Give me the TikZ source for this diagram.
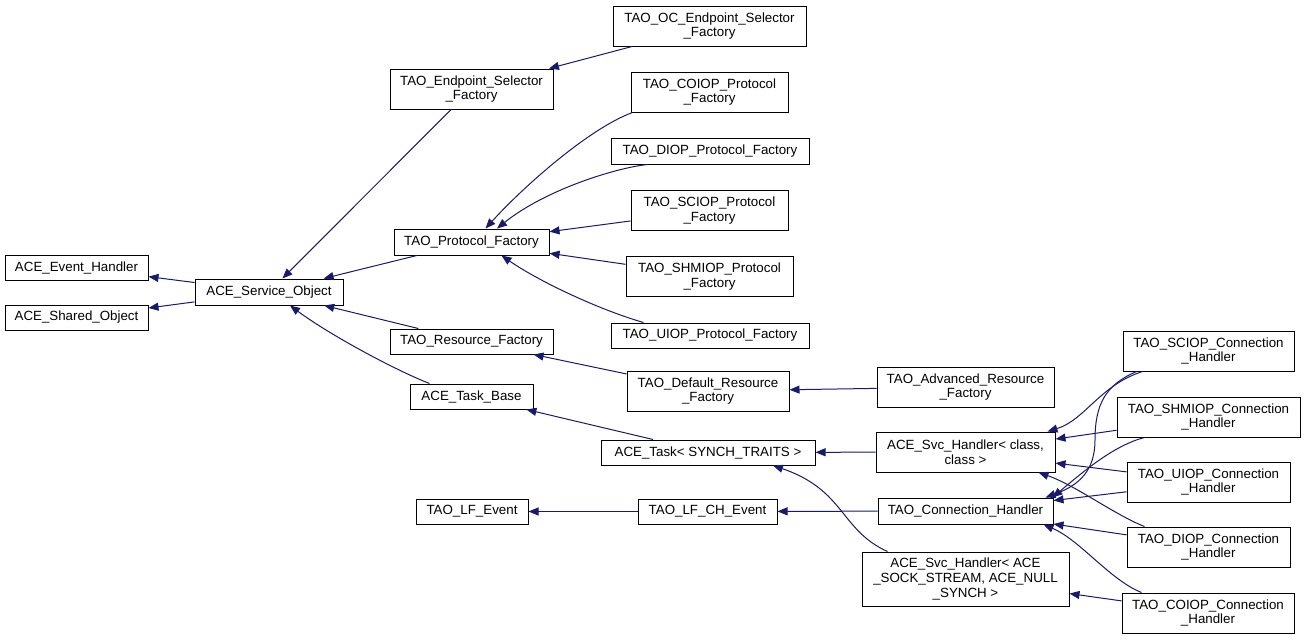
\documentclass[tikz,border=0pt]{standalone}
\usepackage{fontspec}
\setmainfont{Liberation Sans}
\usetikzlibrary{arrows.meta,calc}
\definecolor{edgeblue}{HTML}{191970}
\begin{document}
\begin{tikzpicture}[x=0.75pt,y=-0.75pt,
  box/.style={draw=black,fill=white,line width=0.75pt,inner sep=0pt,align=center,font=\fontsize{10}{11}\selectfont},
  sz/.style 2 args={minimum width=#1*0.75pt,minimum height=#2*0.75pt},
  edge/.style={draw=edgeblue,line width=0.75pt,-{Triangle[length=7.5pt,width=6pt]}}]
\useasboundingbox[fill=white] (0,0) rectangle (1305,639);
% nodes
\node[box,sz={193}{40}] (oc) at (709.5,26) {TAO\_OC\_Endpoint\_Selector\\\_Factory};
\node[box,sz={157}{40}] (coiopP) at (709.5,92) {TAO\_COIOP\_Protocol\\\_Factory};
\node[box,sz={198}{26}] (diopP) at (710,151) {TAO\_DIOP\_Protocol\_Factory};
\node[box,sz={157}{40}] (sciopP) at (709.5,210.5) {TAO\_SCIOP\_Protocol\\\_Factory};
\node[box,sz={167}{40}] (shmiopP) at (709.5,276.5) {TAO\_SHMIOP\_Protocol\\\_Factory};
\node[box,sz={198}{25}] (uiopP) at (710,335.5) {TAO\_UIOP\_Protocol\_Factory};
\node[box,sz={163}{40}] (esf) at (471.5,89) {TAO\_Endpoint\_Selector\\\_Factory};
\node[box,sz={155}{26}] (pf) at (471.5,242) {TAO\_Protocol\_Factory};
\node[box,sz={143}{25}] (eh) at (76.5,267.5) {ACE\_Event\_Handler};
\node[box,sz={143}{25}] (so) at (76.5,317.5) {ACE\_Shared\_Object};
\node[box,sz={148}{26}] (svc) at (269,292) {ACE\_Service\_Object};
\node[box,sz={163}{25}] (rf) at (471.5,341.5) {TAO\_Resource\_Factory};
\node[box,sz={123}{25}] (tb) at (471.5,396.5) {ACE\_Task\_Base};
\node[box,sz={162}{40}] (drf) at (708,391) {TAO\_Default\_Resource\\\_Factory};
\node[box,sz={214}{25}] (task) at (708,452.5) {ACE\_Task< SYNCH\_TRAITS >};
\node[box,sz={112}{25}] (lfe) at (472,511.5) {TAO\_LF\_Event};
\node[box,sz={139}{25}] (lfche) at (707.5,511.5) {TAO\_LF\_CH\_Event};
\node[box,sz={177}{40}] (arf) at (965.5,387) {TAO\_Advanced\_Resource\\\_Factory};
\node[box,sz={179}{40}] (svch) at (965.5,452) {ACE\_Svc\_Handler< class,\\class >};
\node[box,sz={175}{26}] (ch) at (965.5,511) {TAO\_Connection\_Handler};
\node[box,sz={207}{54}] (svca) at (965.5,579) {ACE\_Svc\_Handler< ACE\\\_SOCK\_STREAM, ACE\_NULL\\\_SYNCH >};
\node[box,sz={171}{40}] (sciopC) at (1208.5,351) {TAO\_SCIOP\_Connection\\\_Handler};
\node[box,sz={183}{40}] (shmiopC) at (1208.5,417) {TAO\_SHMIOP\_Connection\\\_Handler};
\node[box,sz={163}{40}] (uiopC) at (1208.5,482) {TAO\_UIOP\_Connection\\\_Handler};
\node[box,sz={163}{40}] (diopC) at (1208.5,547) {TAO\_DIOP\_Connection\\\_Handler};
\node[box,sz={172}{40}] (coiopC) at (1208,613) {TAO\_COIOP\_Connection\\\_Handler};
% straight edges
\draw[edge] (svc) -- (eh);
\draw[edge] (svc) -- (so);
\draw[edge] (esf) -- (svc);
\draw[edge] (pf) -- (svc);
\draw[edge] (rf) -- (svc);
\draw[edge] (oc) -- (esf);
\draw[edge] (sciopP) -- (pf);
\draw[edge] (shmiopP) -- (pf);
\draw[edge] (drf) -- (rf);
\draw[edge] (arf) -- (drf);
\draw[edge] (task) -- (tb);
\draw[edge] (svch) -- (task);
\draw[edge] (ch) -- (lfche);
\draw[edge] (lfche) -- (lfe);
\draw[edge] (shmiopC) -- (svch);
\draw[edge] (uiopC) -- (svch);
\draw[edge] (uiopC) -- (ch);
\draw[edge] (diopC) -- (ch);
\draw[edge] (coiopC) -- (svca);
% curved edges
\draw[edge] ($(coiopP.south west)+(2,0)$) .. controls (590,128) and (525,185) .. ($(pf.north)+(14,0)$);
\draw[edge] ($(diopP.south west)+(37,0)$) .. controls (615,168) and (545,190) .. ($(pf.north)+(25.5,0)$);
\draw[edge] ($(uiopP.north west)+(33,0)$) .. controls (600,310) and (540,282) .. ($(pf.south)+(30,0)$);
\draw[edge] ($(tb.north west)+(20,0)$) .. controls (395,370) and (330,335) .. ($(svc.south)+(21,0)$);
\draw[edge] ($(svca.north west)+(26,0)$) .. controls (840,530) and (845,490) .. ($(task.south)+(65,0)$);
\draw[edge] ($(sciopC.south west)+(20,0)$) .. controls (1100,385) and (1085,420) .. ($(svch.north east)+(-8,0)$);
\draw[edge] ($(sciopC.south west)+(14,0)$) .. controls (1105,385) and (1095,405) .. (1095,440) .. controls (1095,470) and (1080,485) .. ($(ch.north east)+(-8,0)$);
\draw[edge] ($(shmiopC.south west)+(28,0)$) .. controls (1115,445) and (1085,470) .. ($(ch.north east)+(-1,0)$);
\draw[edge] ($(diopC.north west)+(18,0)$) .. controls (1115,515) and (1075,485) .. ($(svch.south east)+(-17,0)$);
\draw[edge] ($(coiopC.north west)+(20,0)$) .. controls (1110,580) and (1080,540) .. ($(ch.south east)+(-10,0)$);
\end{tikzpicture}
\end{document}
